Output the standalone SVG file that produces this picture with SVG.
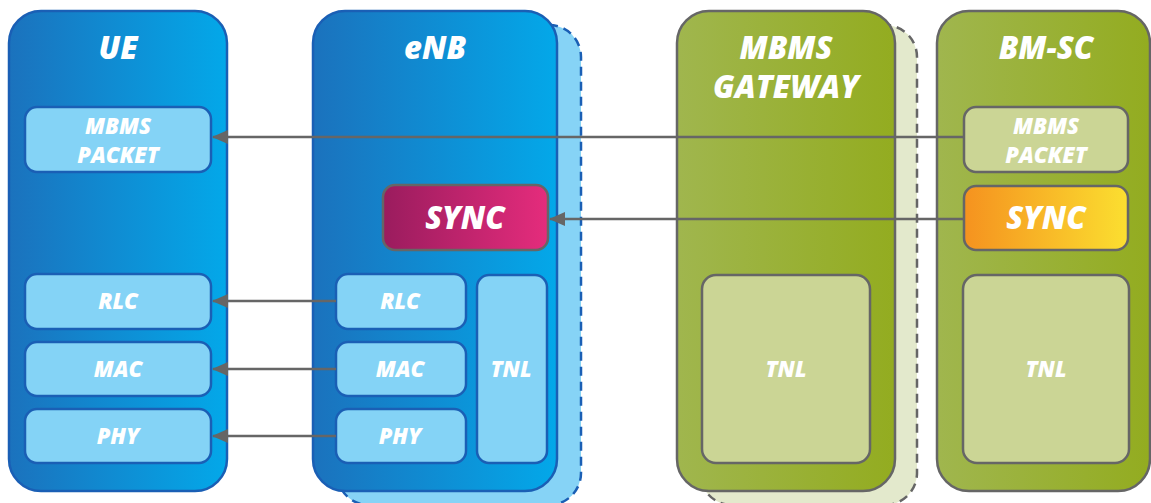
<svg xmlns="http://www.w3.org/2000/svg" width="1151" height="503" viewBox="0 0 1151 503">
<defs>
<linearGradient id="gBlue" x1="0" y1="0" x2="1" y2="0"><stop offset="0" stop-color="#1b72bd"/><stop offset="1" stop-color="#03a8e9"/></linearGradient>
<linearGradient id="gGreen" x1="0" y1="0" x2="1" y2="0"><stop offset="0" stop-color="#a0b64e"/><stop offset="1" stop-color="#93ac20"/></linearGradient>
<linearGradient id="gMag" x1="0" y1="0" x2="1" y2="0"><stop offset="0" stop-color="#9a1c5e"/><stop offset="1" stop-color="#e52c7c"/></linearGradient>
<linearGradient id="gOrange" x1="0" y1="0" x2="1" y2="0"><stop offset="0" stop-color="#f5921f"/><stop offset="1" stop-color="#fbdf30"/></linearGradient>
<marker id="arr" markerWidth="16" markerHeight="14" refX="15" refY="7" orient="auto" markerUnits="userSpaceOnUse"><path d="M0,0 L16,7 L0,14 Z" fill="#666"/></marker>
</defs>
<style>
.t{font-family:"Open Sans","Liberation Sans",sans-serif;font-weight:800;font-style:italic;fill:#fff;text-anchor:middle}
.title{font-size:31px}
.lbl{font-size:22px}
.big{font-size:31px}
.bout{fill:url(#gBlue);stroke:#1a5fb5;stroke-width:2.5}
.bin{fill:#84d3f6;stroke:#1a5fb5;stroke-width:2.5}
.bsh{fill:#86d3f6;stroke:#1a5fb5;stroke-width:2.5;stroke-dasharray:9 6}
.gout{fill:url(#gGreen);stroke:#666;stroke-width:2.5}
.gin{fill:#cbd595;stroke:#666;stroke-width:2.5}
.gsh{fill:#e3e9cc;stroke:#666;stroke-width:2.5;stroke-dasharray:9 6}
.c{stroke:#666;stroke-width:2.5;fill:none;marker-end:url(#arr)}
</style>

<g id="ue">
<rect class="bout" x="9" y="11" width="218" height="480" rx="32"/>
<text class="t title" x="118" y="59">UE</text>
</g>
<g id="ue-mbms">
<rect class="bin" x="25" y="107" width="186" height="65" rx="12"/>
<text class="t lbl" x="118" y="134">MBMS</text>
<text class="t lbl" x="118" y="163">PACKET</text>
</g>
<g id="ue-rlc"><rect class="bin" x="25" y="274" width="186" height="55" rx="12"/><text class="t lbl" x="118" y="309">RLC</text></g>
<g id="ue-mac"><rect class="bin" x="25" y="342" width="186" height="54" rx="12"/><text class="t lbl" x="118" y="377">MAC</text></g>
<g id="ue-phy"><rect class="bin" x="25" y="409" width="186" height="54" rx="12"/><text class="t lbl" x="118" y="444">PHY</text></g>

<g id="enb">
<rect class="bsh" x="337" y="25" width="244" height="480" rx="32"/>
<rect class="bout" x="313" y="11" width="244" height="480" rx="32"/>
<text class="t title" x="435" y="59">eNB</text>
</g>
<g id="enb-sync"><rect x="383" y="185" width="165" height="65" rx="12" fill="url(#gMag)" stroke="#666" stroke-width="2.5"/><text class="t big" x="465" y="229">SYNC</text></g>
<g id="enb-rlc"><rect class="bin" x="336" y="274" width="130" height="55" rx="12"/><text class="t lbl" x="400" y="309">RLC</text></g>
<g id="enb-mac"><rect class="bin" x="336" y="342" width="130" height="54" rx="12"/><text class="t lbl" x="400" y="377">MAC</text></g>
<g id="enb-phy"><rect class="bin" x="336" y="409" width="130" height="54" rx="12"/><text class="t lbl" x="400" y="444">PHY</text></g>
<g id="enb-tnl"><rect class="bin" x="477" y="275" width="70" height="188" rx="12"/><text class="t lbl" x="511" y="377">TNL</text></g>

<g id="mbms-gw">
<rect class="gsh" x="700" y="25" width="217" height="480" rx="32"/>
<rect class="gout" x="677" y="11" width="218" height="480" rx="32"/>
<text class="t title" x="786" y="59">MBMS</text>
<text class="t title" x="786" y="98">GATEWAY</text>
</g>
<g id="gw-tnl"><rect class="gin" x="702" y="275" width="168" height="188" rx="14"/><text class="t lbl" x="786" y="377">TNL</text></g>

<g id="bmsc">
<rect class="gout" x="937" y="11" width="213" height="480" rx="32"/>
<text class="t title" x="1046" y="59">BM-SC</text>
</g>
<g id="bmsc-mbms"><rect class="gin" x="964" y="107" width="164" height="65" rx="12"/><text class="t lbl" x="1046" y="134">MBMS</text><text class="t lbl" x="1046" y="163">PACKET</text></g>
<g id="bmsc-sync"><rect x="964" y="186" width="164" height="64" rx="12" fill="url(#gOrange)" stroke="#666" stroke-width="2.5"/><text class="t big" x="1046" y="229">SYNC</text></g>
<g id="bmsc-tnl"><rect class="gin" x="963" y="275" width="166" height="188" rx="14"/><text class="t lbl" x="1046" y="377">TNL</text></g>

<g id="connectors">
<line class="c" x1="964" y1="137" x2="213" y2="137"/>
<line class="c" x1="964" y1="219" x2="550" y2="219"/>
<line class="c" x1="336" y1="301" x2="213" y2="301"/>
<line class="c" x1="336" y1="369" x2="213" y2="369"/>
<line class="c" x1="336" y1="436" x2="213" y2="436"/>
</g>
</svg>
